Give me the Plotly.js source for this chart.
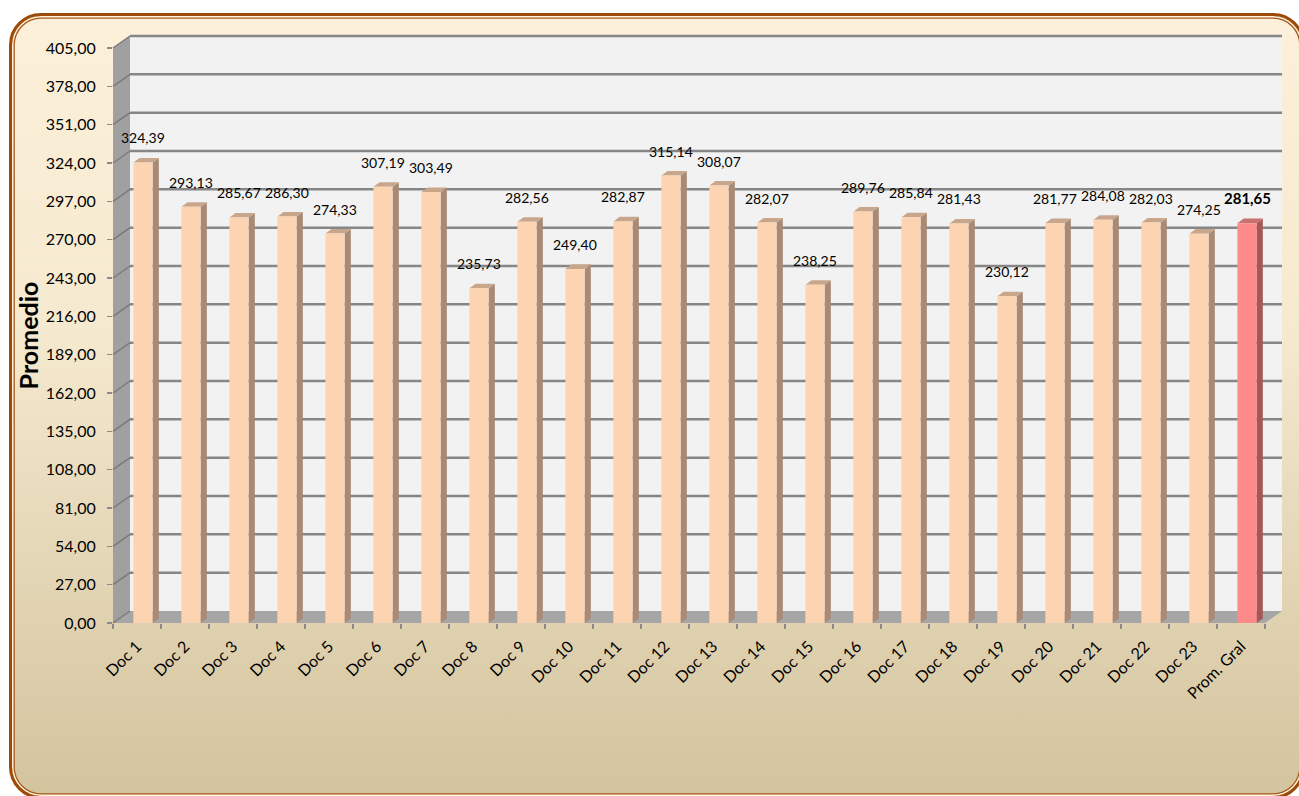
<!DOCTYPE html>
<html>
<head>
<meta charset="utf-8">
<script src="https://cdn.plot.ly/plotly-3.0.1.min.js"></script>
<style>
  html, body { margin: 0; padding: 0; background: #ffffff; width: 1299px; height: 796px; overflow: hidden; }
  #frame {
    position: absolute; left: 9px; top: 13px; width: 1296px; height: 786px;
    box-sizing: border-box;
    border: 3px solid #9C4A08; border-radius: 32px;
    background: linear-gradient(to bottom, #FDF0DA 0%, #F5E9CF 40%, #D3C49E 100%);
    box-shadow: inset 0 0 0 1.5px #FFF4DF, inset 0 0 0 2.8px #A8581A;
  }
  #chart { position: absolute; left: 0; top: 0; width: 1299px; height: 796px; }
</style>
</head>
<body>
<div id="frame"></div>
<div id="chart"></div>
<script>
const categories = ['Doc 1','Doc 2','Doc 3','Doc 4','Doc 5','Doc 6','Doc 7','Doc 8','Doc 9','Doc 10',
  'Doc 11','Doc 12','Doc 13','Doc 14','Doc 15','Doc 16','Doc 17','Doc 18','Doc 19','Doc 20',
  'Doc 21','Doc 22','Doc 23','Prom. Gral'];
const values = [324.39, 293.13, 285.67, 286.30, 274.33, 307.19, 303.49, 235.73, 282.56, 249.40,
  282.87, 315.14, 308.07, 282.07, 238.25, 289.76, 285.84, 281.43, 230.12, 281.77,
  284.08, 282.03, 274.25, 281.65];
const yTicks = [0, 27, 54, 81, 108, 135, 162, 189, 216, 243, 270, 297, 324, 351, 378, 405];
const highlight = 'Prom. Gral';

// styling
const FONT = 'Lato, "Open Sans", sans-serif';
const peach = { front: '#FDD4B2', side: '#A88B77', top: '#C8A68C' };
const red = { front: '#FF8A8A', side: '#A65858', top: '#C97070' };

// geometry (pixels)
const W = 1299, H = 796;
const ML = 113, MR = 17, MT = 36, MB = 173;
const PW = W - ML - MR, PH = H - MT - MB;
const frontRight = 1265, depthX = 17, depthY = 12;
const yMax = 405;
const xDomEnd = (frontRight - ML) / PW;
const yDomEnd = (PH - depthY) / PH;

// pixel -> paper helpers
const xp = px => (px - ML) / PW;
const yp = py => (H - MB - py) / PH;
const frontY = v => (H - MB) - v / yMax * (PH - depthY);
const backY = v => frontY(v) - depthY;

const shapes = [];
// back wall
shapes.push({ type: 'path', xref: 'paper', yref: 'paper', layer: 'below',
  path: `M${xp(ML + depthX)},${yp(backY(0))} L${xp(frontRight + depthX)},${yp(backY(0))} L${xp(frontRight + depthX)},${yp(backY(yMax))} L${xp(ML + depthX)},${yp(backY(yMax))} Z`,
  fillcolor: '#F2F2F2', line: { width: 0 } });
// left wall
shapes.push({ type: 'path', xref: 'paper', yref: 'paper', layer: 'below',
  path: `M${xp(ML)},${yp(frontY(0))} L${xp(ML)},${yp(frontY(yMax))} L${xp(ML + depthX)},${yp(backY(yMax))} L${xp(ML + depthX)},${yp(backY(0))} Z`,
  fillcolor: '#A0A0A0', line: { width: 0 } });
// floor
shapes.push({ type: 'path', xref: 'paper', yref: 'paper', layer: 'below',
  path: `M${xp(ML)},${yp(frontY(0))} L${xp(frontRight)},${yp(frontY(0))} L${xp(frontRight + depthX)},${yp(backY(0))} L${xp(ML + depthX)},${yp(backY(0))} Z`,
  fillcolor: '#A6A6A6', line: { width: 0 } });
// gridlines on walls
yTicks.forEach(v => {
  if (v > 0) {
    shapes.push({ type: 'line', xref: 'paper', yref: 'paper', layer: 'below',
      x0: xp(ML + depthX), x1: xp(frontRight + depthX), y0: yp(backY(v)), y1: yp(backY(v)),
      line: { color: '#868686', width: 2.5 } });
  }
  shapes.push({ type: 'line', xref: 'paper', yref: 'paper', layer: 'below',
    x0: xp(ML), x1: xp(ML + depthX), y0: yp(frontY(v)), y1: yp(backY(v)),
    line: { color: '#7A7A7A', width: 1.5 } });
});

// bar 3D faces (data coordinates)
const barW = 0.4, barOff = -0.075, dx = 0.13, dy = 3.2;
categories.forEach((c, i) => {
  const v = values[i];
  const col = c === highlight ? red : peach;
  const x0 = i + barOff, x1 = i + barOff + barW;
  shapes.push({ type: 'path', xref: 'x', yref: 'y', layer: 'below',
    path: `M${x1},0 L${x1 + dx},${dy} L${x1 + dx},${v + dy} L${x1},${v} Z`,
    fillcolor: col.side, line: { width: 0 } });
  shapes.push({ type: 'path', xref: 'x', yref: 'y', layer: 'below',
    path: `M${x0},${v} L${x1},${v} L${x1 + dx},${v + dy} L${x0 + dx},${v + dy} Z`,
    fillcolor: col.top, line: { width: 0 } });
});

// value labels
const fmt = v => v.toFixed(2).replace('.', ',');
const annotations = categories.map((c, i) => ({
  x: i + barOff + barW / 2, y: values[i], xref: 'x', yref: 'y',
  text: c === highlight ? '<b>' + fmt(values[i]) + '</b>' : fmt(values[i]),
  showarrow: false, yanchor: 'bottom', xanchor: 'center', yshift: 14,
  font: { family: FONT, size: c === highlight ? 15 : 14, color: '#000000' }
}));

const trace = {
  type: 'bar', x: categories, y: values,
  width: barW, offset: barOff,
  marker: { color: categories.map(c => c === highlight ? red.front : peach.front), line: { width: 0 } },
  hoverinfo: 'skip'
};

const layout = {
  width: W, height: H, autosize: false,
  margin: { l: ML, r: MR, t: MT, b: MB, pad: 0 },
  paper_bgcolor: 'rgba(0,0,0,0)', plot_bgcolor: 'rgba(0,0,0,0)',
  showlegend: false,
  separators: ',.',
  font: { family: FONT, color: '#000000' },
  xaxis: {
    type: 'category', domain: [0, xDomEnd], range: [-0.5, categories.length - 0.5],
    tickson: 'boundaries', ticks: 'outside', ticklen: 5, tickwidth: 1.5, tickcolor: '#8A8A8A',
    tickangle: -45, showgrid: false, zeroline: false, showline: false, ticklabelstandoff: 10,
    tickfont: { family: FONT, size: 16, color: '#000000' }, fixedrange: true
  },
  yaxis: {
    domain: [0, yDomEnd], range: [0, yMax], tickvals: yTicks, tickformat: '.2f',
    ticks: 'outside', ticklen: 5, tickwidth: 1.5, tickcolor: '#8A8A8A',
    showgrid: false, zeroline: false, showline: false, ticklabelstandoff: 8,
    tickfont: { family: FONT, size: 16, color: '#000000' },
    title: { text: 'Promedio', standoff: 0, font: { family: FONT, size: 25, color: '#000000', weight: 'bold' } },
    fixedrange: true
  },
  shapes: shapes,
  annotations: annotations
};

Plotly.newPlot('chart', [trace], layout, { displayModeBar: false, staticPlot: true });
</script>
</body>
</html>
